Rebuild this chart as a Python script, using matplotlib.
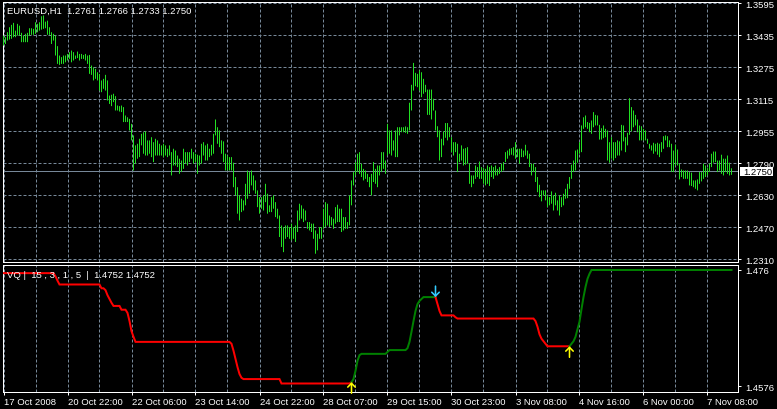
import numpy as np
import matplotlib
matplotlib.use("Agg")
import matplotlib.pyplot as plt
import matplotlib.transforms as mtransforms
from matplotlib.patches import Rectangle

# EURUSD H1 bars (high / low), oldest first
bar_high = [
    1.3432, 1.3424, 1.3449, 1.3474, 1.3486, 1.3496, 1.3457, 1.3491, 1.3482, 1.3446,
    1.3432, 1.3441, 1.3446, 1.3469, 1.3469, 1.3466, 1.3499, 1.3491, 1.3499, 1.3529,
    1.3533, 1.3502, 1.3507, 1.3474, 1.3449, 1.3441, 1.3432, 1.3379, 1.3332, 1.3324,
    1.3332, 1.3332, 1.3340, 1.3349, 1.3357, 1.3349, 1.3332, 1.3352, 1.3340, 1.3340,
    1.3335, 1.3340, 1.3332, 1.3335, 1.3282, 1.3273, 1.3265, 1.3248, 1.3240, 1.3207,
    1.3215, 1.3235, 1.3207, 1.3131, 1.3135, 1.3140, 1.3128, 1.3081, 1.3078, 1.3081,
    1.3073, 1.3031, 1.3022, 1.3014, 1.2989, 1.2931, 1.2881, 1.2889, 1.2914, 1.2939,
    1.2947, 1.2951, 1.2906, 1.2906, 1.2922, 1.2897, 1.2914, 1.2906, 1.2889, 1.2881,
    1.2889, 1.2881, 1.2864, 1.2881, 1.2847, 1.2864, 1.2855, 1.2830, 1.2814, 1.2805,
    1.2864, 1.2847, 1.2847, 1.2847, 1.2864, 1.2847, 1.2839, 1.2834, 1.2830, 1.2889,
    1.2897, 1.2881, 1.2889, 1.2864, 1.2884, 1.2939, 1.3011, 1.2972, 1.2956, 1.2906,
    1.2901, 1.2839, 1.2830, 1.2822, 1.2822, 1.2794, 1.2722, 1.2671, 1.2630, 1.2613,
    1.2605, 1.2688, 1.2755, 1.2747, 1.2755, 1.2730, 1.2705, 1.2655, 1.2621, 1.2621,
    1.2630, 1.2688, 1.2638, 1.2580, 1.2621, 1.2630, 1.2596, 1.2563, 1.2529, 1.2479,
    1.2471, 1.2479, 1.2479, 1.2471, 1.2488, 1.2471, 1.2479, 1.2554, 1.2588, 1.2580,
    1.2563, 1.2554, 1.2496, 1.2496, 1.2488, 1.2488, 1.2454, 1.2437, 1.2471, 1.2471,
    1.2563, 1.2596, 1.2588, 1.2529, 1.2521, 1.2513, 1.2571, 1.2583, 1.2563, 1.2563,
    1.2521, 1.2521, 1.2496, 1.2630, 1.2705, 1.2747, 1.2797, 1.2839, 1.2847, 1.2789,
    1.2763, 1.2755, 1.2738, 1.2722, 1.2738, 1.2797, 1.2763, 1.2780, 1.2780, 1.2847,
    1.2847, 1.2805, 1.2989, 1.2956, 1.2956, 1.2906, 1.2956, 1.2972, 1.2972, 1.2972,
    1.2972, 1.2976, 1.2972, 1.3095, 1.3185, 1.3295, 1.3245, 1.3240, 1.3257, 1.3248,
    1.3215, 1.3185, 1.3161, 1.3161, 1.3161, 1.3115, 1.3056, 1.2977, 1.2956, 1.2914,
    1.2951, 1.2993, 1.2993, 1.2972, 1.2922, 1.2897, 1.2897, 1.2889, 1.2839, 1.2881,
    1.2864, 1.2867, 1.2872, 1.2789, 1.2730, 1.2730, 1.2780, 1.2772, 1.2800, 1.2772,
    1.2767, 1.2763, 1.2780, 1.2772, 1.2780, 1.2772, 1.2780, 1.2763, 1.2772, 1.2789,
    1.2797, 1.2847, 1.2855, 1.2864, 1.2867, 1.2872, 1.2897, 1.2864, 1.2864, 1.2864,
    1.2855, 1.2884, 1.2855, 1.2839, 1.2789, 1.2789, 1.2772, 1.2722, 1.2683, 1.2655,
    1.2655, 1.2655, 1.2630, 1.2621, 1.2650, 1.2630, 1.2643, 1.2605, 1.2630, 1.2621,
    1.2638, 1.2663, 1.2688, 1.2722, 1.2784, 1.2805, 1.2855, 1.2860, 1.2897, 1.2981,
    1.3022, 1.3031, 1.2998, 1.2994, 1.3006, 1.3048, 1.3034, 1.3031, 1.2984, 1.2967,
    1.2981, 1.2964, 1.2956, 1.2897, 1.2922, 1.2897, 1.2897, 1.2906, 1.2901, 1.2984,
    1.2981, 1.2922, 1.2944, 1.3118, 1.3073, 1.3056, 1.3034, 1.3011, 1.2981, 1.2977,
    1.2964, 1.2956, 1.2914, 1.2889, 1.2881, 1.2894, 1.2889, 1.2894, 1.2889, 1.2897,
    1.2927, 1.2931, 1.2927, 1.2906, 1.2889, 1.2855, 1.2884, 1.2860, 1.2789, 1.2760,
    1.2755, 1.2755, 1.2755, 1.2747, 1.2744, 1.2705, 1.2705, 1.2710, 1.2747, 1.2747,
    1.2789, 1.2780, 1.2767, 1.2789, 1.2839, 1.2850, 1.2850, 1.2805, 1.2805, 1.2834,
    1.2814, 1.2814, 1.2830, 1.2794, 1.2766,
]
bar_low = [
    1.3382, 1.3390, 1.3407, 1.3412, 1.3416, 1.3424, 1.3424, 1.3432, 1.3432, 1.3399,
    1.3399, 1.3399, 1.3399, 1.3432, 1.3436, 1.3436, 1.3441, 1.3449, 1.3457, 1.3462,
    1.3466, 1.3469, 1.3436, 1.3436, 1.3390, 1.3407, 1.3332, 1.3290, 1.3285, 1.3290,
    1.3290, 1.3298, 1.3307, 1.3315, 1.3298, 1.3307, 1.3315, 1.3319, 1.3307, 1.3315,
    1.3315, 1.3307, 1.3290, 1.3240, 1.3235, 1.3207, 1.3215, 1.3207, 1.3156, 1.3148,
    1.3165, 1.3156, 1.3106, 1.3089, 1.3078, 1.3098, 1.3056, 1.3056, 1.3051, 1.3048,
    1.2998, 1.2998, 1.2998, 1.2956, 1.2906, 1.2755, 1.2789, 1.2814, 1.2822, 1.2881,
    1.2839, 1.2830, 1.2830, 1.2839, 1.2822, 1.2797, 1.2830, 1.2830, 1.2830, 1.2830,
    1.2822, 1.2830, 1.2822, 1.2830, 1.2730, 1.2780, 1.2780, 1.2772, 1.2738, 1.2747,
    1.2763, 1.2789, 1.2780, 1.2797, 1.2814, 1.2789, 1.2797, 1.2738, 1.2780, 1.2789,
    1.2830, 1.2805, 1.2805, 1.2822, 1.2830, 1.2839, 1.2931, 1.2889, 1.2872, 1.2839,
    1.2797, 1.2755, 1.2755, 1.2755, 1.2755, 1.2671, 1.2630, 1.2538, 1.2504, 1.2546,
    1.2554, 1.2580, 1.2613, 1.2638, 1.2680, 1.2655, 1.2638, 1.2571, 1.2538, 1.2563,
    1.2554, 1.2596, 1.2538, 1.2546, 1.2546, 1.2563, 1.2521, 1.2513, 1.2421, 1.2371,
    1.2345, 1.2412, 1.2421, 1.2412, 1.2404, 1.2412, 1.2396, 1.2446, 1.2504, 1.2513,
    1.2496, 1.2504, 1.2462, 1.2454, 1.2446, 1.2412, 1.2337, 1.2354, 1.2412, 1.2412,
    1.2462, 1.2471, 1.2479, 1.2471, 1.2479, 1.2462, 1.2488, 1.2496, 1.2496, 1.2446,
    1.2454, 1.2462, 1.2462, 1.2479, 1.2580, 1.2680, 1.2730, 1.2747, 1.2738, 1.2722,
    1.2705, 1.2713, 1.2697, 1.2671, 1.2630, 1.2697, 1.2688, 1.2671, 1.2730, 1.2747,
    1.2763, 1.2738, 1.2830, 1.2839, 1.2830, 1.2855, 1.2822, 1.2822, 1.2931, 1.2947,
    1.2947, 1.2944, 1.2939, 1.2956, 1.3056, 1.3156, 1.3178, 1.3173, 1.3156, 1.3123,
    1.3140, 1.3148, 1.3034, 1.3034, 1.3011, 1.3056, 1.2956, 1.2922, 1.2805, 1.2822,
    1.2881, 1.2919, 1.2906, 1.2922, 1.2847, 1.2830, 1.2847, 1.2747, 1.2797, 1.2805,
    1.2780, 1.2784, 1.2789, 1.2688, 1.2671, 1.2688, 1.2713, 1.2722, 1.2713, 1.2713,
    1.2688, 1.2680, 1.2688, 1.2677, 1.2722, 1.2713, 1.2730, 1.2730, 1.2738, 1.2747,
    1.2755, 1.2797, 1.2814, 1.2830, 1.2834, 1.2830, 1.2814, 1.2822, 1.2789, 1.2822,
    1.2822, 1.2830, 1.2814, 1.2772, 1.2730, 1.2747, 1.2697, 1.2646, 1.2621, 1.2600,
    1.2630, 1.2605, 1.2571, 1.2580, 1.2588, 1.2554, 1.2580, 1.2554, 1.2529, 1.2571,
    1.2580, 1.2613, 1.2616, 1.2663, 1.2713, 1.2747, 1.2755, 1.2794, 1.2839, 1.2847,
    1.2964, 1.2972, 1.2964, 1.2947, 1.2939, 1.2972, 1.2981, 1.2981, 1.2910, 1.2910,
    1.2917, 1.2922, 1.2805, 1.2794, 1.2814, 1.2805, 1.2817, 1.2830, 1.2830, 1.2855,
    1.2901, 1.2847, 1.2881, 1.2934, 1.2951, 1.2972, 1.2981, 1.2947, 1.2906, 1.2906,
    1.2906, 1.2906, 1.2889, 1.2864, 1.2855, 1.2839, 1.2850, 1.2834, 1.2822, 1.2847,
    1.2864, 1.2906, 1.2872, 1.2872, 1.2747, 1.2747, 1.2780, 1.2780, 1.2710, 1.2722,
    1.2713, 1.2713, 1.2713, 1.2680, 1.2677, 1.2671, 1.2663, 1.2655, 1.2688, 1.2700,
    1.2713, 1.2722, 1.2730, 1.2747, 1.2772, 1.2794, 1.2797, 1.2747, 1.2755, 1.2738,
    1.2730, 1.2747, 1.2738, 1.2730, 1.2733,
]
last_price = 1.2750

# VQ indicator, run-length: level and number of bars it holds
vq_value = [1.4755, 1.4750, 1.4743, 1.4737, 1.4731, 1.4728, 1.4720, 1.4714, 1.4708, 1.4703,
            1.4697, 1.4692, 1.4679, 1.4663, 1.4654, 1.4646, 1.4643, 1.4632, 1.4619, 1.4606,
            1.4595, 1.4589, 1.4587, 1.4580, 1.4582, 1.4587, 1.4600, 1.4616, 1.4625, 1.4627,
            1.4630, 1.4633, 1.4636, 1.4646, 1.4662, 1.4679, 1.4695, 1.4706, 1.4711, 1.4714,
            1.4717, 1.4706, 1.4695, 1.4688, 1.4685, 1.4683, 1.4679, 1.4670, 1.4658, 1.4651,
            1.4647, 1.4643, 1.4639, 1.4643, 1.4647, 1.4654, 1.4666, 1.4678, 1.4698, 1.4717,
            1.4733, 1.4746, 1.4754, 1.4760]
vq_count = [26, 1, 1, 21, 2, 1, 1, 1, 1, 4,
            3, 1, 1, 1, 1, 48, 1, 1, 1, 1,
            1, 1, 19, 35, 1, 1, 1, 1, 1, 13,
            1, 9, 1, 1, 1, 1, 1, 1, 1, 1,
            7, 1, 1, 7, 1, 39, 1, 1, 1, 1,
            1, 1, 12, 1, 1, 1, 1, 1, 1, 1,
            1, 1, 1, 71]
signal_bars = [174, 216, 283]
signal_dirs = ["up", "down", "up"]

time_labels = ["17 Oct 2008", "20 Oct 22:00", "22 Oct 06:00", "23 Oct 14:00",
               "24 Oct 22:00", "28 Oct 07:00", "29 Oct 15:00", "30 Oct 23:00",
               "3 Nov 08:00", "4 Nov 16:00", "6 Nov 00:00", "7 Nov 08:00"]
price_labels = ["1.3595", "1.3435", "1.3275", "1.3115", "1.2955",
                "1.2790", "1.2630", "1.2470", "1.2310"]
vq_labels = ["1.476", "1.4576"]

title = "EURUSD,H1  1.2761 1.2766 1.2733 1.2750"
vq_title = "VQ |  15 , 3 , 1 , 5  |  1.4752 1.4752"

# ---- style
BG = "black"
FG = "white"
GRID = "#778899"
BAR = "#22e022"
FONT = "Liberation Sans"
FS = 6.8
PX = 0.72  # one pixel in points

n = len(bar_high)
idx = np.arange(n)
vq = np.repeat(vq_value, vq_count)

W, H = 777, 410
fig = plt.figure(figsize=(W / 100, H / 100), dpi=100, facecolor=BG)


def px_axes(x0, y0, x1, y1):
    return fig.add_axes([x0 / W, 1 - y1 / H, (x1 - x0) / W, (y1 - y0) / H])


ax = px_axes(2.5, 2.5, 737.5, 262.5)
ax2 = px_axes(2.5, 265.5, 737.5, 392.5)

for a in (ax, ax2):
    a.set_facecolor(BG)
    for s in a.spines.values():
        s.set_color(FG)
        s.set_linewidth(PX)
    a.set_xlim(-0.5, -0.5 + 735 / 2)
    a.yaxis.tick_right()
    a.tick_params(axis="y", direction="out", length=2.5, width=PX, colors=FG,
                  labelsize=FS, pad=3)
    a.set_xticks(np.arange(0, n, 32))
    a.set_xticks(np.arange(16, n, 32), minor=True)
    a.grid(True, which="both", axis="x", color=GRID, lw=PX, linestyle=(0, (3, 2)))
    a.tick_params(axis="x", which="minor", length=0)

# ---- price panel
ax.set_ylim(1.2298, 1.36032)
ticks = np.linspace(1.3595, 1.2310, len(price_labels))
ax.set_yticks(ticks)
ax.set_yticklabels(price_labels, fontfamily=FONT)
ax.grid(True, axis="y", color=GRID, lw=PX, linestyle=(0, (3, 2)))
ax.tick_params(axis="x", which="both", length=0, labelbottom=False)
ax.set_axisbelow(True)

# one crisp pixel column per bar
ax.vlines(idx, bar_low, bar_high, colors=BAR, lw=PX, snap=False, zorder=3)
ax.axhline(last_price, color=GRID, lw=PX, zorder=2)

ax.text(4.5 / 735, 0.968, title, transform=ax.transAxes, color=FG,
        fontsize=FS, fontfamily=FONT, va="center", ha="left", zorder=5)

# current price tag on the price scale
tr = mtransforms.blended_transform_factory(ax.transAxes, ax.transData)
tag_h = 0.0047
ax.add_patch(Rectangle((1.0034, last_price - tag_h / 2), 0.0449, tag_h, transform=tr,
                       facecolor="white", edgecolor="none", clip_on=False, zorder=6))
ax.text(1.0075, last_price - 0.0002, f"{last_price:.4f}", transform=tr, color="black",
        fontsize=FS, fontfamily=FONT, va="center", ha="left", zorder=7, clip_on=False)

# ---- VQ panel
ax2.set_ylim(1.45673, 1.47687)
ax2.set_yticks([float(v) for v in vq_labels])
ax2.set_yticklabels(vq_labels, fontfamily=FONT)
ax2.set_xticklabels(time_labels, fontfamily=FONT, ha="left")
ax2.tick_params(axis="x", which="major", direction="out", length=2.5, width=PX,
                colors=FG, labelsize=FS, pad=1.5)

bounds = [0] + signal_bars + [n - 1]
colors = ["red" if signal_dirs[0] == "up" else "#008000"]
colors += ["#008000" if d == "up" else "red" for d in signal_dirs]
for k in range(len(bounds) - 1):
    s, e = bounds[k], bounds[k + 1]
    ax2.plot(idx[s:e + 1], vq[s:e + 1], color=colors[k], lw=2 * PX,
             solid_joinstyle="miter", zorder=3)

for b, d in zip(signal_bars, signal_dirs):
    up = d == "up"
    ax2.annotate("", xy=(b, vq[b]), xytext=(0, (-11 if up else 11) * PX),
                 textcoords="offset points", xycoords="data",
                 arrowprops=dict(arrowstyle="->,head_length=0.45,head_width=0.45",
                                 color="yellow" if up else "#33ccff",
                                 lw=1.6 * PX, mutation_scale=6,
                                 shrinkA=0, shrinkB=0),
                 zorder=5)

ax2.text(4.5 / 735, 0.925, vq_title, transform=ax2.transAxes, color=FG,
         fontsize=FS, fontfamily=FONT, va="center", ha="left", zorder=5)

fig.savefig("out.png", dpi=100, facecolor=BG)
